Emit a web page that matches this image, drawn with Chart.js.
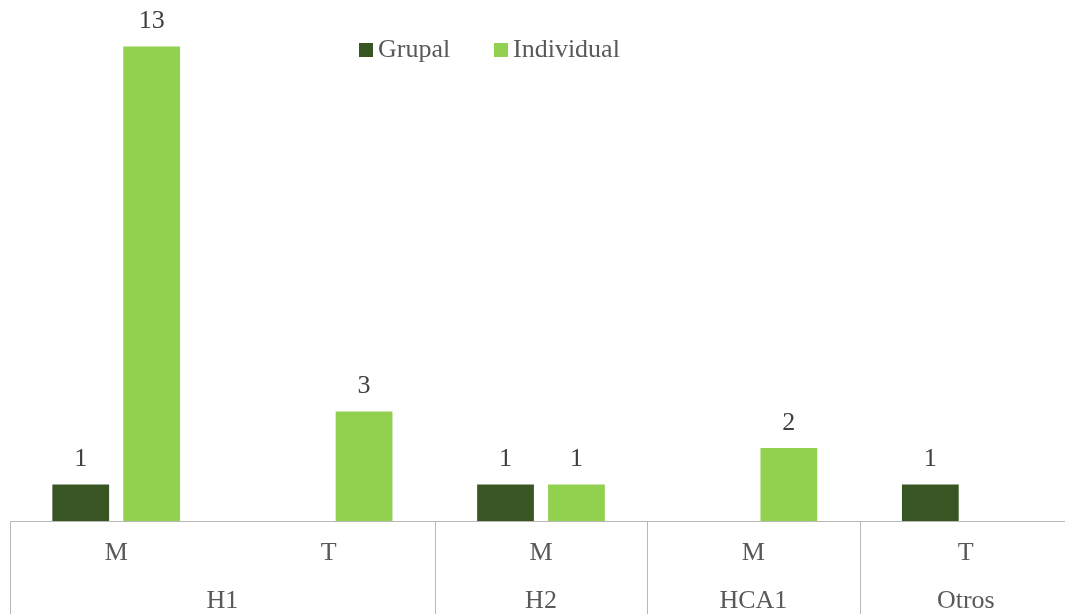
<!DOCTYPE html>
<html>
<head>
<meta charset="utf-8">
<script src="https://cdn.jsdelivr.net/npm/chart.js@4"></script>
<style>
  html, body { margin: 0; padding: 0; background: #fff; overflow: hidden; }
  #wrap { width: 1075px; height: 614px; }
</style>
</head>
<body>
<div id="wrap"><canvas id="chart" width="1075" height="614"></canvas></div>
<script>
// categories: shift per group
const shifts = ['M', 'T', 'M', 'M', 'T'];
const groups = ['H1', 'H1', 'H2', 'HCA1', 'Otros'];
const grupal = [1, null, 1, null, 1];
const individual = [13, 3, 1, 2, null];

const FONT = '"Liberation Serif", "Times New Roman", serif';
const GRID = '#b8b8b8';
const TEXT = '#595959';

// two-row category axis with group separators
const axisPlugin = {
  id: 'twoRowAxis',
  afterDraw(chart) {
    const c = chart.ctx, area = chart.chartArea, xs = chart.scales.x;
    const half = (xs.getPixelForValue(1) - xs.getPixelForValue(0)) / 2;
    const y0 = Math.round(area.bottom) + 0.5;
    c.save();
    c.strokeStyle = GRID;
    c.lineWidth = 1;
    c.beginPath();
    c.moveTo(area.left, y0);
    c.lineTo(chart.width, y0);
    c.stroke();
    c.font = '26px ' + FONT;
    c.fillStyle = TEXT;
    c.textAlign = 'center';
    c.textBaseline = 'middle';
    shifts.forEach((s, i) => c.fillText(s, xs.getPixelForValue(i), y0 + 32));
    let start = 0;
    for (let i = 1; i <= groups.length; i++) {
      if (i === groups.length || groups[i] !== groups[start]) {
        const l = xs.getPixelForValue(start) - half;
        const r = xs.getPixelForValue(i - 1) + half;
        c.fillText(groups[start], (l + r) / 2, y0 + 80);
        [l, r].forEach(x => {
          c.beginPath();
          c.moveTo(Math.round(x) + 0.5, y0);
          c.lineTo(Math.round(x) + 0.5, chart.height);
          c.stroke();
        });
        start = i;
      }
    }
    c.restore();
  }
};

// value labels above bars
const valuePlugin = {
  id: 'values',
  afterDatasetsDraw(chart) {
    const c = chart.ctx;
    c.save();
    c.font = '26px ' + FONT;
    c.fillStyle = '#404040';
    c.textAlign = 'center';
    c.textBaseline = 'middle';
    chart.data.datasets.forEach((ds, di) => {
      chart.getDatasetMeta(di).data.forEach((bar, i) => {
        if (ds.data[i] == null) return;
        c.fillText(ds.data[i], bar.x, bar.y - 25);
      });
    });
    c.restore();
  }
};

// legend inside the plot
const legendPlugin = {
  id: 'innerLegend',
  afterDraw(chart) {
    const c = chart.ctx;
    const pos = [359, 494];
    c.save();
    c.font = '26px ' + FONT;
    c.textBaseline = 'middle';
    chart.data.datasets.forEach((ds, i) => {
      c.fillStyle = ds.backgroundColor;
      c.fillRect(pos[i], 43, 14, 14);
      c.fillStyle = TEXT;
      c.fillText(ds.label, pos[i] + 19, 50);
    });
    c.restore();
  }
};

new Chart(document.getElementById('chart'), {
  type: 'bar',
  data: {
    labels: shifts.map((s, i) => groups[i] + ' ' + s),
    datasets: [
      { label: 'Grupal', data: grupal, backgroundColor: '#375623' },
      { label: 'Individual', data: individual, backgroundColor: '#92d050' }
    ]
  },
  options: {
    responsive: false,
    animation: false,
    categoryPercentage: 0.668,
    barPercentage: 0.8,
    layout: { padding: { left: 10, right: 3, top: 10, bottom: 93 } },
    scales: {
      x: { display: false },
      y: { display: false, min: 0, max: 14 }
    },
    plugins: { legend: { display: false }, tooltip: { enabled: false } }
  },
  plugins: [axisPlugin, valuePlugin, legendPlugin]
});
</script>
</body>
</html>
